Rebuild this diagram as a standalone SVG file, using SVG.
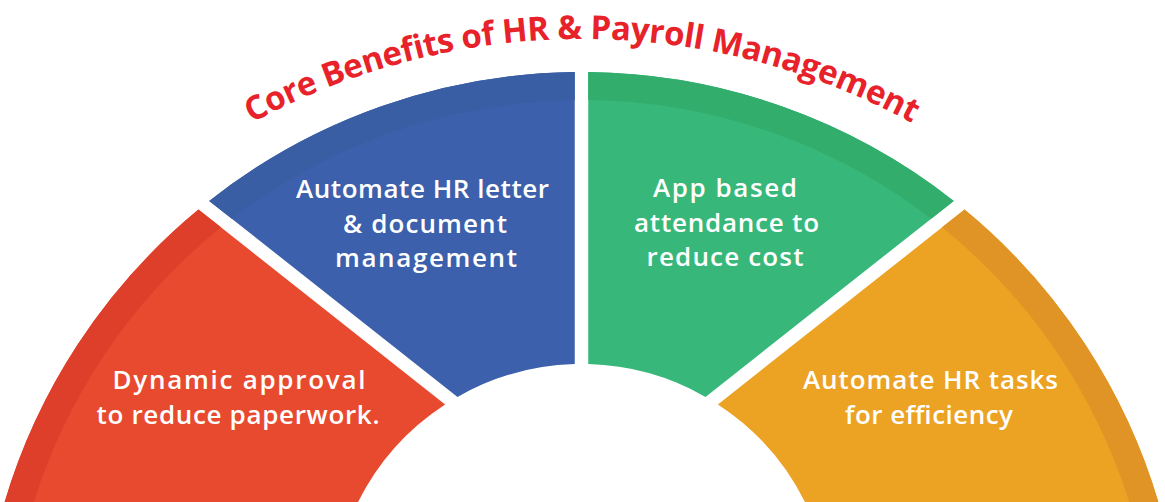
<svg xmlns="http://www.w3.org/2000/svg" width="1165" height="502" viewBox="0 0 1165 502">
  <style>
    .lbl { font-family: "Open Sans", "Noto Sans", "DejaVu Sans", sans-serif; font-weight: 600; font-size: 26px; fill: #ffffff; text-anchor: middle; }
    .title { font-family: "Open Sans", "Noto Sans", "DejaVu Sans", sans-serif; font-weight: 700; font-size: 33px; fill: #E8222A; }
    .red { fill: #E84A2F; } .red-rim { fill: #DE3F2A; }
    .blue { fill: #3C60AB; } .blue-rim { fill: #3A5EA4; }
    .green { fill: #37B87A; } .green-rim { fill: #32AD6C; }
    .orange { fill: #ECA223; } .orange-rim { fill: #E09426; }
  </style>
  <defs>
    <path id="titleArc" d="M 138.5 200.4 A 690 690 0 0 1 1025.5 200.4" fill="none"/>
  </defs>
  <rect width="1165" height="502" fill="#ffffff"/>

  <g id="title">
    <text class="title"><textPath href="#titleArc" startOffset="50%" text-anchor="middle" textLength="688" lengthAdjust="spacing">Core Benefits of HR &amp; Payroll Management</textPath></text>
  </g>

  <g id="node-dynamic-approval">
    <path class="red" d="M 2.3 510 A 602 602 0 0 1 198.44 209.58 L 445.1 404.4 A 250 250 0 0 0 354.2 510 Z"/>
    <path class="red-rim" d="M 2.3 510 A 602 602 0 0 1 198.44 209.58 L 220.95 227.35 A 574 574 0 0 0 31.4 510 Z"/>
    <text class="lbl" x="239" y="388.5" textLength="253">Dynamic approval</text>
    <text class="lbl" x="238" y="424" textLength="283">to reduce paperwork.</text>
  </g>

  <g id="node-hr-letter">
    <path class="blue" d="M 209.22 200.89 A 602 602 0 0 1 574.75 72.03 L 574.75 364.09 A 250 250 0 0 0 457.5 396.9 Z"/>
    <path class="blue-rim" d="M 209.22 200.89 A 602 602 0 0 1 574.75 72.03 L 574.75 100.03 A 574 574 0 0 0 231.85 218.76 Z"/>
    <text class="lbl" x="422.5" y="198" textLength="253">Automate HR letter</text>
    <text class="lbl" x="425" y="233" textLength="164">&amp; document</text>
    <text class="lbl" x="426" y="267" textLength="182">management</text>
  </g>

  <g id="node-attendance">
    <path class="green" d="M 588.25 72.04 A 602 602 0 0 1 953.78 200.89 L 705.5 396.9 A 250 250 0 0 0 588.25 364.09 Z"/>
    <path class="green-rim" d="M 588.25 72.04 A 602 602 0 0 1 953.78 200.89 L 931.15 218.76 A 574 574 0 0 0 588.25 100.05 Z"/>
    <text class="lbl" x="725" y="197" textLength="144">App based</text>
    <text class="lbl" x="726.5" y="232" textLength="185">attendance to</text>
    <text class="lbl" x="725" y="266" textLength="157">reduce cost</text>
  </g>

  <g id="node-hr-tasks">
    <path class="orange" d="M 964.56 209.58 A 602 602 0 0 1 1160.7 510 L 808.8 510 A 250 250 0 0 0 717.9 404.4 Z"/>
    <path class="orange-rim" d="M 964.56 209.58 A 602 602 0 0 1 1160.7 510 L 1131.6 510 A 574 574 0 0 0 942.05 227.35 Z"/>
    <text class="lbl" x="930.5" y="388.5" textLength="255">Automate HR tasks</text>
    <text class="lbl" x="929" y="423.5" textLength="168">for efficiency</text>
  </g>
</svg>
